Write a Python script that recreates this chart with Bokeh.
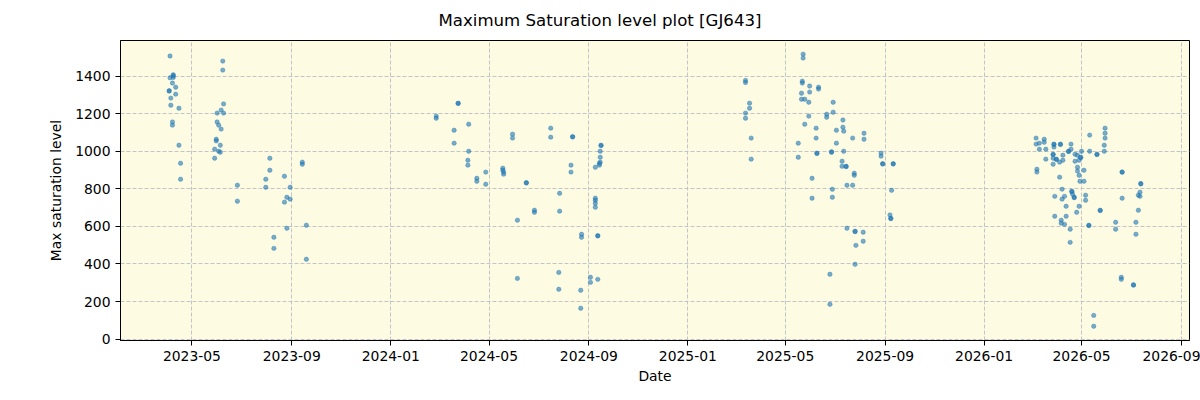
import pandas as pd
from bokeh.plotting import figure
from bokeh.models import Range1d, FixedTicker, DatetimeTickFormatter, Title, ColumnDataSource
from bokeh.embed import file_html
from bokeh.resources import INLINE

# Observations per season: date of exposure and its maximum saturation level
dates_2023 = [
    "2023-04-04", "2023-04-08", "2023-04-08", "2023-04-04", "2023-04-08", "2023-04-07", "2023-04-11",
    "2023-04-03", "2023-04-03", "2023-04-11", "2023-04-05", "2023-04-05", "2023-04-15", "2023-04-07",
    "2023-04-07", "2023-04-15", "2023-04-17", "2023-04-17",
    "2023-06-08", "2023-06-08", "2023-06-09", "2023-06-06", "2023-06-01", "2023-06-09", "2023-06-01",
    "2023-06-03", "2023-06-06", "2023-05-31", "2023-05-31", "2023-06-05", "2023-05-29", "2023-06-03",
    "2023-06-05", "2023-05-29", "2023-06-26", "2023-06-26",
    "2023-08-05", "2023-08-05", "2023-07-31", "2023-07-31", "2023-08-23", "2023-08-30", "2023-08-26",
    "2023-08-30", "2023-08-23", "2023-08-26", "2023-08-10", "2023-08-10",
    "2023-09-14", "2023-09-14", "2023-09-19", "2023-09-19",
]
levels_2023 = [
    1507, 1407, 1402, 1391, 1393, 1363, 1341,
    1323, 1320, 1304, 1283, 1245, 1229, 1156,
    1139, 1032, 936, 851,
    1480, 1432, 1252, 1219, 1203, 1203, 1156,
    1139, 1118, 1064, 1055, 1032, 1011, 1000,
    995, 963, 819, 734,
    963, 899, 851, 808, 867, 808, 755,
    745, 729, 590, 542, 483,
    942, 931, 606, 425,
]

dates_2024 = [
    "2024-02-26", "2024-02-26", "2024-03-24", "2024-03-24", "2024-03-19", "2024-03-19", "2024-04-06",
    "2024-04-06", "2024-04-05", "2024-04-05", "2024-04-16", "2024-04-16", "2024-04-27", "2024-04-27",
    "2024-05-18", "2024-05-18", "2024-05-19", "2024-05-19", "2024-05-30", "2024-05-30", "2024-06-05",
    "2024-06-05", "2024-06-16", "2024-06-16", "2024-06-26", "2024-06-26",
    "2024-07-16", "2024-07-16", "2024-07-27", "2024-07-27", "2024-07-26", "2024-07-26", "2024-08-12",
    "2024-08-12", "2024-08-10", "2024-08-10", "2024-08-23", "2024-08-23", "2024-08-22", "2024-08-22",
    "2024-09-03", "2024-09-03", "2024-09-12", "2024-09-09", "2024-09-09", "2024-09-09", "2024-09-09",
    "2024-09-12", "2024-09-12", "2024-09-09", "2024-09-14", "2024-09-14", "2024-09-15", "2024-09-15",
    "2024-09-15", "2024-09-16", "2024-09-16",
]
levels_2024 = [
    1187, 1176, 1256, 1254, 1112, 1043, 1144,
    1000, 952, 926, 856, 840, 889, 824,
    910, 899, 889, 878, 1091, 1070, 633,
    323, 833, 831, 686, 675,
    1123, 1075, 776, 681, 355, 265, 1078,
    1076, 926, 889, 558, 542, 260, 164,
    329, 302, 318, 750, 739, 723, 702,
    551, 549, 915, 926, 936, 942, 968,
    1000, 1032, 1030,
]

dates_2025 = [
    "2025-03-13", "2025-03-13", "2025-03-18", "2025-03-18", "2025-03-13", "2025-03-13", "2025-03-20",
    "2025-03-20",
    "2025-05-23", "2025-05-23", "2025-05-22", "2025-05-22", "2025-05-31", "2025-06-11", "2025-06-11",
    "2025-05-21", "2025-05-31", "2025-05-21", "2025-05-25", "2025-05-30", "2025-06-29", "2025-05-30",
    "2025-06-21", "2025-06-21", "2025-06-29", "2025-05-25", "2025-06-08", "2025-06-08", "2025-05-17",
    "2025-05-17", "2025-07-03", "2025-07-03", "2025-07-11", "2025-07-11", "2025-07-12", "2025-07-23",
    "2025-08-06", "2025-08-06",
    "2025-06-09", "2025-06-09", "2025-06-27", "2025-06-27", "2025-07-12", "2025-07-10", "2025-07-10",
    "2025-07-15", "2025-07-15", "2025-07-25", "2025-07-25", "2025-07-16", "2025-07-23", "2025-06-03",
    "2025-06-03", "2025-06-28", "2025-06-28",
    "2025-08-27", "2025-08-27", "2025-08-29", "2025-08-29", "2025-09-11", "2025-09-11", "2025-09-09",
    "2025-09-07", "2025-09-08", "2025-09-08",
    "2025-07-16", "2025-07-26", "2025-07-26", "2025-08-05", "2025-08-05", "2025-07-27", "2025-07-26",
    "2025-06-25", "2025-06-25",
]
levels_2025 = [
    1377, 1366, 1256, 1229, 1203, 1176, 1070,
    958,
    1517, 1496, 1373, 1363, 1347, 1341, 1331,
    1309, 1315, 1277, 1277, 1261, 1261, 1187,
    1197, 1181, 1208, 1144, 1123, 1070, 1043,
    968, 1112, 1043, 1166, 1128, 1107, 1070,
    1096, 1064,
    990, 988, 997, 995, 1000, 947, 920,
    920, 918, 883, 872, 819, 819, 856,
    750, 798, 755,
    990, 974, 934, 932, 934, 932, 792,
    661, 643, 641,
    590, 574, 572, 569, 521, 499, 398,
    345, 185,
]

dates_2026 = [
    "2026-03-06", "2026-03-06", "2026-03-10", "2026-03-10", "2026-03-16", "2026-03-16", "2026-03-18",
    "2026-03-18", "2026-03-07", "2026-03-07",
    "2026-03-28", "2026-03-28", "2026-03-28", "2026-04-05", "2026-04-05", "2026-04-18", "2026-04-18",
    "2026-04-15", "2026-04-15",
    "2026-03-27", "2026-03-27", "2026-03-27", "2026-03-31", "2026-03-31", "2026-04-08", "2026-04-04",
    "2026-04-08", "2026-03-27", "2026-04-04",
    "2026-04-23", "2026-04-26", "2026-04-30", "2026-04-30", "2026-05-01", "2026-04-23", "2026-04-28",
    "2026-04-26", "2026-04-26", "2026-05-04", "2026-04-28", "2026-04-29", "2026-05-04",
    "2026-05-11", "2026-05-11", "2026-05-20", "2026-05-20", "2026-05-29", "2026-05-29", "2026-05-30",
    "2026-05-30", "2026-05-30",
    "2026-04-07", "2026-03-29", "2026-04-10", "2026-04-07", "2026-04-19", "2026-04-19", "2026-04-20",
    "2026-04-22", "2026-04-22", "2026-05-06", "2026-05-06",
    "2026-04-12", "2026-04-28", "2026-04-25", "2026-03-29", "2026-04-12", "2026-04-06", "2026-04-06",
    "2026-04-10", "2026-04-17", "2026-04-17",
    "2026-05-10", "2026-05-10", "2026-05-24", "2026-05-24",
    "2026-06-20", "2026-06-20", "2026-06-20", "2026-06-12", "2026-06-12", "2026-07-07", "2026-07-07",
    "2026-07-13", "2026-07-13", "2026-07-12", "2026-07-10", "2026-07-12", "2026-07-10",
    "2026-06-19", "2026-06-19", "2026-07-04", "2026-07-04", "2026-05-16", "2026-05-16",
]
levels_2026 = [
    1070, 1038, 1043, 1011, 1064, 1048, 1011,
    958, 904, 889,
    1038, 1022, 1036, 1038, 1036, 1038, 1011,
    1000, 998,
    984, 982, 963, 958, 956, 979, 942,
    952, 931, 862,
    984, 979, 968, 966, 1000, 947, 952,
    915, 895, 899, 872, 840, 840,
    1086, 1000, 984, 982, 1000, 1032, 1070,
    1096, 1123,
    798, 760, 760, 745, 787, 785, 771,
    755, 753, 766, 739,
    707, 707, 675, 654, 654, 633, 617,
    611, 585, 515,
    606, 604, 686, 684,
    890, 888, 750, 622, 585, 622, 558,
    828, 826, 782, 766, 760, 686,
    329, 318, 289, 287, 126, 68,
]

tick_months = [
    "2023-05-01", "2023-09-01", "2024-01-01", "2024-05-01", "2024-09-01", "2025-01-01",
    "2025-05-01", "2025-09-01", "2026-01-01", "2026-05-01", "2026-09-01",
]
y_ticks = [0, 200, 400, 600, 800, 1000, 1200, 1400]
title_text = "Maximum Saturation level plot [GJ643]"


def ms(s):
    return pd.Timestamp(s).value / 1e6


all_dates = pd.to_datetime(dates_2023 + dates_2024 + dates_2025 + dates_2026)
all_levels = levels_2023 + levels_2024 + levels_2025 + levels_2026
source = ColumnDataSource(data=dict(date=all_dates, level=all_levels))

FONT = "DejaVu Sans"

p = figure(
    width=1200, height=400,
    x_axis_type="datetime",
    output_backend="svg", toolbar_location=None,
    x_range=Range1d(ms("2023-02-02"), ms("2026-09-11")),
    y_range=Range1d(-7.6, 1589.6),
    min_border_left=120, min_border_right=11, min_border_top=40, min_border_bottom=60,
)
# Figure-wide title, centred on the whole canvas rather than on the frame
p.title = Title(
    text=title_text, align="left", offset=318, vertical_align="top",
    text_font=FONT, text_font_size="16.6px", text_font_style="normal",
    text_color="black", standoff=18,
)

p.background_fill_color = "#fdfbe2"
p.border_fill_color = "white"
p.outline_line_color = "black"
p.outline_line_width = 1
p.outline_line_alpha = 1

p.scatter(
    "date", "level", source=source, size=4.4,
    fill_color="#1f77b4", fill_alpha=0.6,
    line_color="#1f77b4", line_alpha=0.6, line_width=0.6,
)

p.xaxis.ticker = FixedTicker(ticks=[ms(t) for t in tick_months])
p.xaxis.formatter = DatetimeTickFormatter(days="%Y-%m", months="%Y-%m", years="%Y-%m")
p.yaxis.ticker = FixedTicker(ticks=y_ticks)

p.xaxis.axis_label = "Date"
p.yaxis.axis_label = "Max saturation level"

for ax in (p.xaxis[0], p.yaxis[0]):
    ax.axis_label_text_font = FONT
    ax.axis_label_text_font_size = "13.9px"
    ax.axis_label_text_font_style = "normal"
    ax.axis_label_text_color = "black"
    ax.major_label_text_font = FONT
    ax.major_label_text_font_size = "13.9px"
    ax.major_label_text_color = "black"
    ax.major_label_standoff = 5
    ax.major_tick_out = 5
    ax.major_tick_in = 0
    ax.minor_tick_out = 0
    ax.minor_tick_in = 0
    ax.major_tick_line_color = "black"
    ax.axis_line_color = "black"
p.xaxis[0].axis_label_standoff = 4
p.yaxis[0].axis_label_standoff = 8

for g in (p.xgrid[0], p.ygrid[0]):
    g.grid_line_color = "#c4c4c8"
    g.grid_line_dash = "4 2"
    g.grid_line_width = 1

open("out.html", "w").write(file_html(p, INLINE))
